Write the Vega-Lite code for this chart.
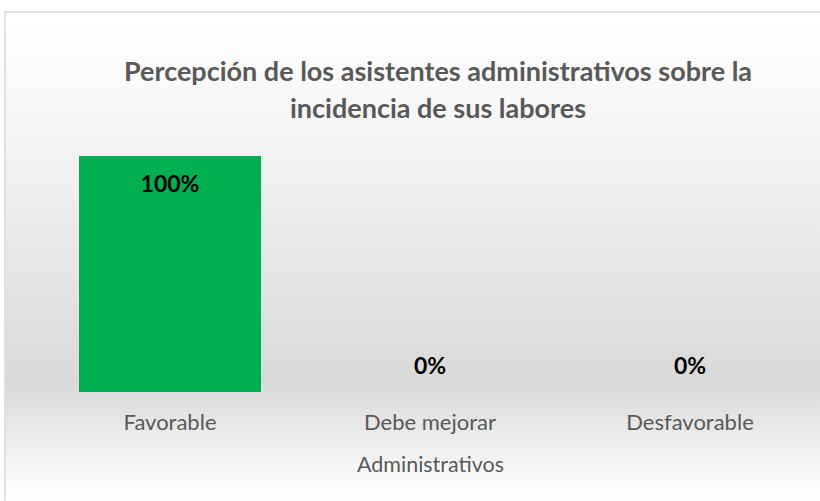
{
  "$schema": "https://vega.github.io/schema/vega-lite/v6.json",
  "autosize": "none",
  "padding": {"left": 5, "top": 12, "right": 0, "bottom": 0},
  "width": 820,
  "height": 495,
  "background": "#ffffff",
  "title": {
    "text": ["Percepción de los asistentes administrativos sobre la", "incidencia de sus labores"],
    "font": "Lato",
    "fontSize": 27,
    "fontWeight": "bold",
    "color": "#595959",
    "lineHeight": 37,
    "anchor": "middle",
    "frame": "group",
    "dx": 23,
    "offset": -112
  },
  "data": {
    "values": [
      {"categoria": "Favorable", "valor": 1.0},
      {"categoria": "Debe mejorar", "valor": 0.0},
      {"categoria": "Desfavorable", "valor": 0.0}
    ]
  },
  "encoding": {
    "x": {
      "field": "categoria",
      "type": "nominal",
      "sort": null,
      "title": "Administrativos",
      "scale": {"range": [35, 815], "paddingInner": 0.3, "paddingOuter": 0.15},
      "axis": {
        "orient": "bottom",
        "offset": -115,
        "domain": false,
        "ticks": false,
        "labelAngle": 0,
        "labelFont": "Lato",
        "labelFontSize": 22,
        "labelColor": "#595959",
        "labelPadding": 20,
        "titleFont": "Lato",
        "titleFontSize": 21.5,
        "titleFontWeight": "normal",
        "titleColor": "#595959",
        "titlePadding": 21
      }
    },
    "y": {
      "field": "valor",
      "type": "quantitative",
      "scale": {"domain": [-0.4873, 1.6102], "nice": false, "zero": false},
      "axis": null
    }
  },
  "layer": [
    {
      "mark": {"type": "bar", "color": "#00b050", "clip": true},
      "encoding": {"y2": {"datum": 0}}
    },
    {
      "transform": [{"filter": "datum.valor > 0"}],
      "mark": {"type": "text", "dy": 29, "font": "Lato", "fontSize": 23, "fontWeight": "bold", "color": "#000000"},
      "encoding": {"text": {"field": "valor", "type": "quantitative", "format": ".0%"}}
    },
    {
      "transform": [{"filter": "datum.valor == 0"}],
      "mark": {"type": "text", "dy": -25, "font": "Lato", "fontSize": 23, "fontWeight": "bold", "color": "#000000"},
      "encoding": {"text": {"field": "valor", "type": "quantitative", "format": ".0%"}}
    }
  ],
  "config": {
    "view": {
      "stroke": "#d9d9d9",
      "strokeWidth": 1.5,
      "fill": {
        "gradient": "linear",
        "x1": 0, "y1": 0, "x2": 0, "y2": 1,
        "stops": [
          {"offset": 0, "color": "#ffffff"},
          {"offset": 0.2, "color": "#f7f7f7"},
          {"offset": 0.75, "color": "#d9d9d9"},
          {"offset": 0.95, "color": "#fbfbfb"},
          {"offset": 1, "color": "#ffffff"}
        ]
      }
    }
  }
}
